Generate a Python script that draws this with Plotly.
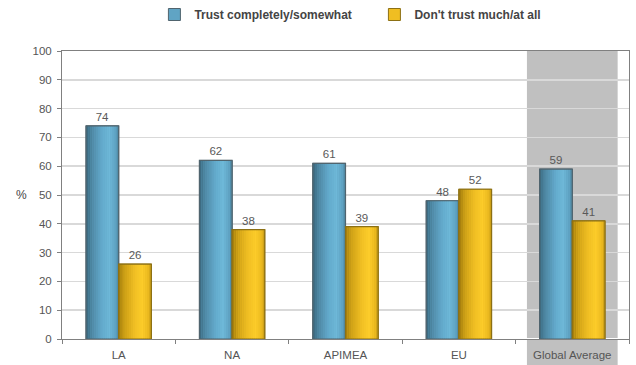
import plotly.graph_objects as go

categories = ["LA", "NA", "APIMEA", "EU", "Global Average"]
trust = [74, 62, 61, 48, 59]
distrust = [26, 38, 39, 52, 41]
series_names = ["Trust completely/somewhat", "Don't trust much/at all"]

# styling
BAR_W = 0.288
N_STRIPS = 16
blue_stops = [(0.0, (58, 102, 124)), (0.18, (78, 136, 164)), (0.5, (100, 172, 206)),
              (0.72, (110, 184, 216)), (0.9, (96, 164, 196)), (1.0, (76, 132, 158))]
gold_stops = [(0.0, (160, 122, 12)), (0.18, (205, 160, 22)), (0.5, (242, 192, 36)),
              (0.72, (252, 204, 42)), (0.9, (236, 186, 32)), (1.0, (196, 152, 22))]


def grad(stops, t):
    for (t0, c0), (t1, c1) in zip(stops[:-1], stops[1:]):
        if t0 <= t <= t1:
            f = (t - t0) / (t1 - t0) if t1 > t0 else 0
            c = [round(a + (b - a) * f) for a, b in zip(c0, c1)]
            return "rgb(%d,%d,%d)" % tuple(c)
    return "rgb(%d,%d,%d)" % stops[-1][1]


fig = go.Figure()

specs = [
    (trust, series_names[0], blue_stops, -BAR_W, "rgb(80,100,110)", "rgb(96,164,196)"),
    (distrust, series_names[1], gold_stops, 0.0, "rgb(140,112,20)", "rgb(240,190,34)"),
]

for vals, name, stops, off, line_c, mid_c in specs:
    # legend / base trace
    fig.add_trace(go.Bar(x=categories, y=vals, name=name, width=BAR_W, offset=off,
                         marker=dict(color=mid_c, line=dict(color=line_c, width=1)),
                         showlegend=True, hoverinfo="skip"))
    sw = BAR_W / N_STRIPS
    for i in range(N_STRIPS):
        t = (i + 0.5) / N_STRIPS
        fig.add_trace(go.Bar(x=categories, y=vals, width=sw * 1.05, offset=off + i * sw,
                             marker=dict(color=grad(stops, t), line=dict(width=0)),
                             showlegend=False, hoverinfo="skip"))
    fig.add_trace(go.Bar(x=categories, y=vals, name=name, width=BAR_W, offset=off,
                         marker=dict(color="rgba(0,0,0,0)", line=dict(color=line_c, width=1.2)),
                         text=[str(v) for v in vals], textposition="outside",
                         textfont=dict(size=11.5, color="#595959"),
                         cliponaxis=False, showlegend=False))

fig.add_shape(type="rect", xref="x", yref="paper", x0=3.6, x1=4.4, y0=-0.1, y1=1,
              fillcolor="#c0c0c0", line=dict(width=0), layer="between")

fig.add_annotation(text="%", xref="paper", yref="y", x=-0.0723, y=50, xanchor="center",
                   showarrow=False, font=dict(size=12, color="#444444"))

fig.update_layout(
    width=636, height=365,
    margin=dict(l=62, r=7, t=51, b=26),
    barmode="overlay",
    plot_bgcolor="white", paper_bgcolor="white",
    font=dict(family="Liberation Sans, Arial, sans-serif", color="#555555", size=11.5),
    legend=dict(orientation="h", x=0.163, xanchor="left", y=1.0, yanchor="top", yref="container",
                bgcolor="rgba(0,0,0,0)",
                font=dict(size=12, color="#444444", family="Liberation Sans, Arial, sans-serif", weight="bold"),
                itemwidth=30, entrywidth=175, entrywidthmode="pixels", traceorder="normal"),
    xaxis=dict(showline=True, linecolor="#808080", linewidth=1, mirror=True,
               ticks="outside", tickson="boundaries", ticklen=4, tickcolor="#808080",
               ticklabelstandoff=5, automargin=False,
               tickfont=dict(size=11.5, color="#555555"), showgrid=False),
    yaxis=dict(range=[0, 100], dtick=10, showline=True, linecolor="#808080", linewidth=1,
               mirror=True, ticks="outside", ticklen=4, tickcolor="#808080",
               ticklabelstandoff=3, automargin=False,
               showgrid=True, gridcolor="#d9d9d9", gridwidth=1.5,
               tickfont=dict(size=11.5, color="#555555")),
)

fig.write_html("out.html", config={"staticPlot": True},
               post_script="document.body.style.margin='0';document.body.style.overflow='hidden';")
